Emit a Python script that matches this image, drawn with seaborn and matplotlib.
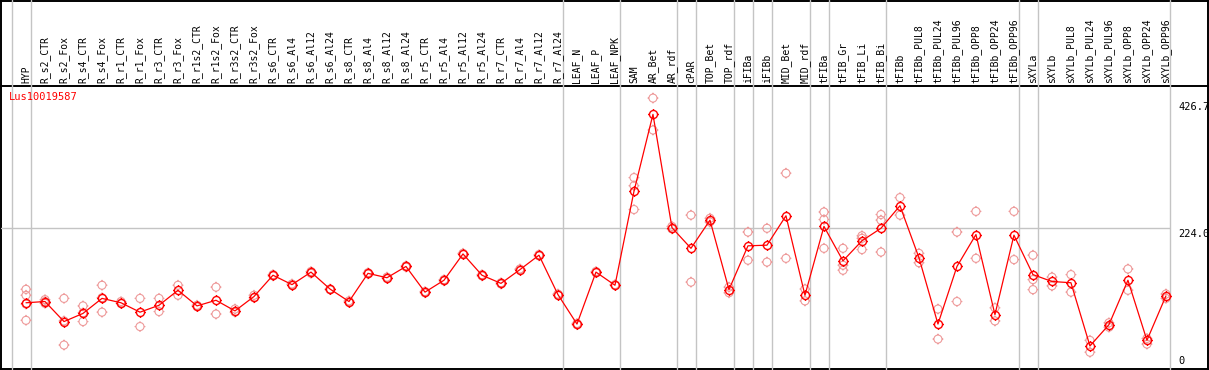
import numpy as np
import pandas as pd
import seaborn as sns
import matplotlib.pyplot as plt
import matplotlib.transforms as mtransforms
from matplotlib.path import Path

# Sample groups (columns of the expression chart)
categories = [
    'HYP', 'R_s2_CTR', 'R_s2_Fox', 'R_s4_CTR', 'R_s4_Fox', 'R_r1_CTR', 'R_r1_Fox',
    'R_r3_CTR', 'R_r3_Fox', 'R_r1s2_CTR', 'R_r1s2_Fox', 'R_r3s2_CTR', 'R_r3s2_Fox',
    'R_s6_CTR', 'R_s6_Al4', 'R_s6_Al12', 'R_s6_Al24', 'R_s8_CTR', 'R_s8_Al4',
    'R_s8_Al12', 'R_s8_Al24', 'R_r5_CTR', 'R_r5_Al4', 'R_r5_Al12', 'R_r5_Al24',
    'R_r7_CTR', 'R_r7_Al4', 'R_r7_Al12', 'R_r7_Al24', 'LEAF_N', 'LEAF_P', 'LEAF_NPK',
    'SAM', 'AR_Bet', 'AR_rdf', 'cPAR', 'TOP_Bet', 'TOP_rdf', 'iFIBa', 'iFIBb',
    'MID_Bet', 'MID_rdf', 'tFIBa', 'tFIB_Gr', 'tFIB_Li', 'tFIB_Bi', 'tFIBb',
    'tFIBb_PUL8', 'tFIBb_PUL24', 'tFIBb_PUL96', 'tFIBb_OPP8', 'tFIBb_OPP24',
    'tFIBb_OPP96', 'sXYLa', 'sXYLb', 'sXYLb_PUL8', 'sXYLb_PUL24', 'sXYLb_PUL96',
    'sXYLb_OPP8', 'sXYLb_OPP24', 'sXYLb_OPP96',
]

# Mean expression per group (red line)
mean_values = [
    105, 107, 75, 88, 112, 105, 90, 101, 125, 100, 109, 92, 115,
    149, 134, 154, 127, 107, 152, 145, 163, 122, 141, 183, 149,
    136, 158, 181, 118, 71, 154, 133,
    283, 406, 225, 192, 237, 126, 196, 197, 244, 117,
    227, 172, 204, 224, 260, 177, 71, 163, 214, 86, 213,
    150, 139, 137, 36, 70, 141, 45, 116,
]

# Individual replicates per group (pale circles)
replicates = [
    [126.5, 117, 103, 77], [110, 104, 107], [112, 37.5, 76], [100, 75, 89],
    [133, 90, 113], [107, 104], [112, 67], [112, 91], [133, 117], [101, 99],
    [130, 87], [95, 90], [117, 113], [150, 148], [135, 134], [155, 152],
    [127, 126], [108, 106], [153, 151], [146, 144], [164, 162], [123, 121],
    [142, 140], [184, 183], [150, 148], [137, 135], [159, 158], [182, 180],
    [119, 118], [72, 70], [155, 153], [134, 133],
    [305, 292, 254], [432, 381], [227, 223], [245, 138], [240, 234], [130, 121],
    [218, 173], [224, 170], [312, 176], [127, 108],
    [250, 238, 192], [192, 165, 157], [212, 208, 190], [246, 237, 186],
    [273, 245], [184, 169], [95, 47], [218, 107], [251, 176], [97, 76], [251, 174],
    [181, 142, 126], [146, 132], [150, 122], [45, 26], [73, 66], [159, 125],
    [48, 39], [119, 112],
]

# last column index of each tissue block (gray separators)
group_ends = [-1, 0, 28, 31, 34, 35, 37, 38, 39, 41, 42, 45, 52, 53, 60]
y_ticks = [0, 224.0, 426.7]
gene_id = 'Lus10019587'

positions = np.arange(len(categories))
rep_df = pd.DataFrame({
    'pos': [i for i, reps in enumerate(replicates) for _ in reps],
    'value': [v for reps in replicates for v in reps],
})

sns.set_style('white')
plt.rcParams['font.family'] = ['DejaVu Sans Mono', 'DejaVu Sans']

W, H = 1209, 370
fig = plt.figure(figsize=(W / 100, H / 100), dpi=100)

# background frame in pixel coordinates
bg = fig.add_axes([0, 0, 1, 1], zorder=0)
bg.set_xlim(0, W)
bg.set_ylim(H, 0)
bg.axis('off')
for x in [1, W - 1]:
    bg.plot([x, x], [0, 368.5], color='black', lw=1.4)
for y in [0.7, 85.5, 368.5]:
    bg.plot([0, W], [y, y], color='black', lw=1.4)

left, right, top, bottom = 1, 1170.5, 85.5, 368.5
ax = fig.add_axes([left / W, (H - bottom) / H, (right - left) / W, (bottom - top) / H], zorder=1)
ax.patch.set_alpha(0)

# circle marker with four small ticks
circle = Path.unit_circle()
ticks = Path([(0, 1), (0, 1.35), (0, -1), (0, -1.35), (1, 0), (1.35, 0), (-1, 0), (-1.35, 0)],
             [Path.MOVETO, Path.LINETO] * 4)
tick_marker = Path.make_compound_path(circle, ticks)

sns.scatterplot(data=rep_df, x='pos', y='value', marker=tick_marker, s=7.8 ** 2,
                facecolor='none', edgecolor='#ee9a9a', linewidth=0.8,
                legend=False, ax=ax, zorder=2)
sns.lineplot(x=positions, y=mean_values, color='red', lw=0.9, marker=tick_marker,
             markersize=7.8, markerfacecolor='none', markeredgecolor='red',
             markeredgewidth=1.0, ax=ax, zorder=3)

ax.set_xlim(-1.316, 60.24)
ax.set_ylim(0, 452.1)
ax.set_xticks([])
ax.set_yticks([])
ax.set_xlabel('')
ax.set_ylabel('')
for s in ax.spines.values():
    s.set_visible(False)

ax.axhline(224.0, color='#c4c4c4', lw=1.0, zorder=0)
for k in group_ends:
    ax.axvline(k + 0.24, ymin=0, ymax=bottom / (bottom - top), color='#c4c4c4',
               lw=1.0, clip_on=False, zorder=0)

# column labels in the header band
hdr = mtransforms.blended_transform_factory(ax.transData, ax.transAxes)
for i, name in enumerate(categories):
    ax.text(i, 1 + 2.5 / (bottom - top), name, transform=hdr, rotation=90,
            ha='center', va='bottom', fontsize=7, color='black')

# value labels on the right
rt = mtransforms.blended_transform_factory(ax.transAxes, ax.transData)
for v in y_ticks:
    lbl = '0' if v == 0 else f'{v:.1f}'
    ax.text(1 + 7.5 / (right - left), v + (4 if v == 0 else -1.5), lbl, transform=rt,
            ha='left', va='bottom' if v == 0 else 'top', fontsize=7.5, color='black',
            clip_on=False)

fig.text(9 / W, 1 - 97 / H, gene_id, color='red', fontsize=7.5, ha='left', va='center')

fig.savefig('out.png', dpi=100)
